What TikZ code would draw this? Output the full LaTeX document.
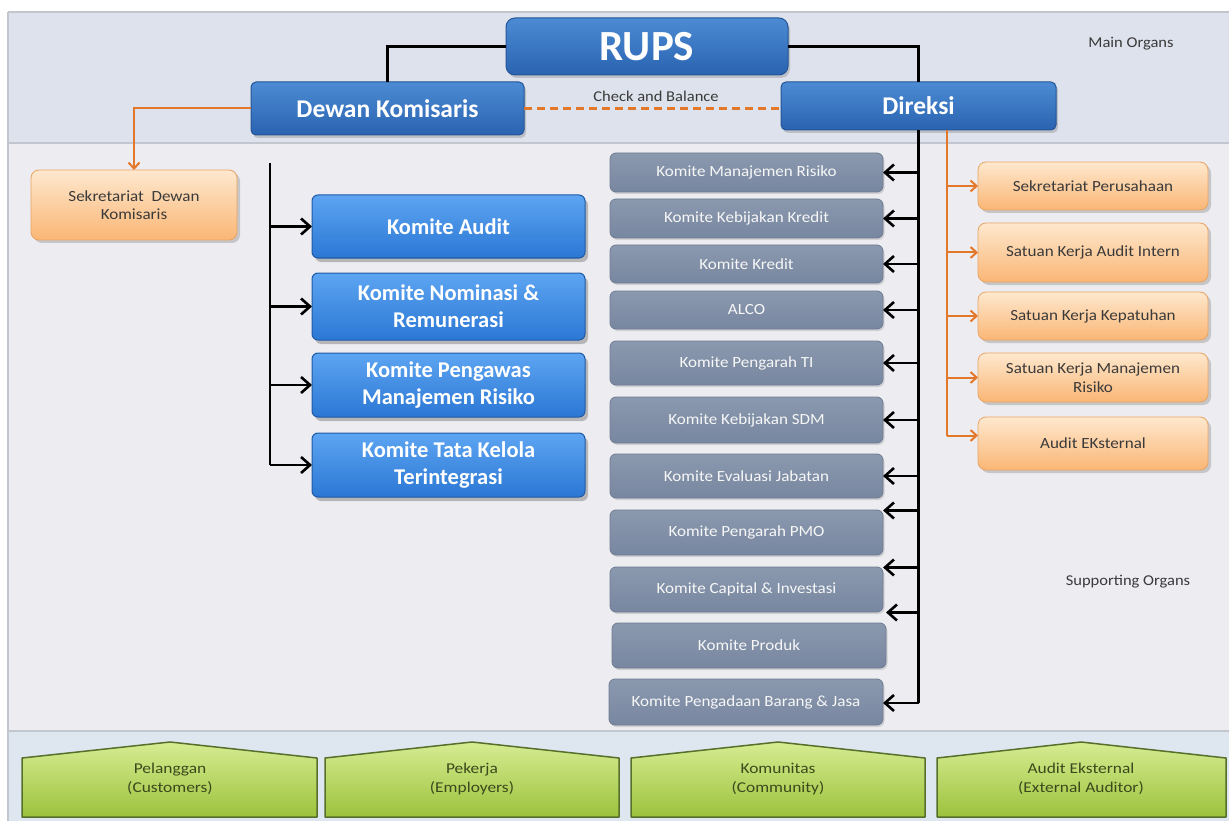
\documentclass[tikz,border=0pt]{standalone}
\usepackage{fontspec}
\setmainfont{Carlito}
\newfontfamily\widefont[FakeStretch=1.1]{Carlito}
\newfontfamily\widerfont[FakeStretch=1.16]{Carlito}
\usetikzlibrary{arrows.meta,shadows,calc}

\definecolor{topband}{HTML}{DEE2EC}
\definecolor{midband}{HTML}{EDECF1}
\definecolor{botband}{HTML}{DEE6EF}
\definecolor{bandline}{HTML}{C2C6CE}
\definecolor{mainTop}{HTML}{4C8BD4}
\definecolor{mainBot}{HTML}{2A63B0}
\definecolor{mainEdge}{HTML}{245596}
\definecolor{komTop}{HTML}{5DA5F2}
\definecolor{komBot}{HTML}{2B77D4}
\definecolor{komEdge}{HTML}{1D5AA6}
\definecolor{grayTop}{HTML}{8A99AE}
\definecolor{grayBot}{HTML}{7887A0}
\definecolor{grayEdge}{HTML}{6E7C92}
\definecolor{orTop}{HTML}{FEE8CE}
\definecolor{orBot}{HTML}{FAB675}
\definecolor{orEdge}{HTML}{E8A465}
\definecolor{orLine}{HTML}{E4782A}
\definecolor{grTop}{HTML}{D6EC92}
\definecolor{grBot}{HTML}{9CC23C}
\definecolor{grEdge}{HTML}{56702B}
\definecolor{txtDark}{HTML}{3A3A3A}
\definecolor{txtGreen}{HTML}{3B4A1C}

\newcommand\bx[7]{\node[#1, minimum width={(#5)-(#3)}, minimum height={(#6)-(#4)}] (#2) at ({((#3)+(#5))/2},{((#4)+(#6))/2}) {#7};}

\tikzset{
  boxbase/.style={outer sep=0pt, inner sep=2pt, align=center},
  mainbox/.style={boxbase, rounded corners=5pt, draw=mainEdge, line width=1pt,
    top color=mainTop, bottom color=mainBot, text=white,
    font={\fontsize{25.5}{29}\selectfont\bfseries},
    drop shadow={opacity=0.35, shadow xshift=2pt, shadow yshift=-3pt}},
  kombox/.style={boxbase, rounded corners=6pt, draw=komEdge, line width=1pt,
    top color=komTop, bottom color=komBot, text=white,
    font={\fontsize{22.5}{27}\selectfont\bfseries},
    drop shadow={opacity=0.5, shadow xshift=3pt, shadow yshift=-4pt}},
  graybox/.style={boxbase, rounded corners=6pt, draw=grayEdge, line width=0.8pt,
    top color=grayTop, bottom color=grayBot, text=white!94!gray,
    font={\widefont\fontsize{15.5}{19}\selectfont},
    drop shadow={opacity=0.25, shadow xshift=1.5pt, shadow yshift=-2pt}},
  orbox/.style={boxbase, rounded corners=8pt, draw=orEdge, line width=0.8pt,
    top color=orTop, bottom color=orBot, text=txtDark,
    font={\widefont\fontsize{15.5}{19}\selectfont},
    drop shadow={opacity=0.35, shadow xshift=3pt, shadow yshift=-3pt}},
  greenshape/.style={draw=grEdge, line width=1.5pt, line join=round,
    top color=grTop, bottom color=grBot},
  greentext/.style={align=center, text=txtGreen, font={\widerfont\fontsize{15}{19}\selectfont}},
  lbl/.style={text=txtDark, font={\widefont\fontsize{15}{18}\selectfont}},
  blk/.style={draw=black, line width=2.8pt},
  blkarr/.style={blk, -{Straight Barb[length=9pt,width=16pt,line width=2.6pt]}},
  orl/.style={draw=orLine, line width=2pt},
  orarr/.style={orl, -{Straight Barb[length=6pt,width=11pt,line width=2pt]}},
  cbdash/.style={draw=orLine, line width=3pt, dash pattern=on 8pt off 5pt},
}

\begin{document}
\begin{tikzpicture}[x=1pt, y=-1pt]
\useasboundingbox (0,0) rectangle (1229,821);
% background bands
\fill[white] (0,0) rectangle (1229,821);
\fill[topband] (8,12) rectangle (1229,143);
\fill[midband] (8,143) rectangle (1229,731);
\fill[botband] (8,731) rectangle (1229,821);
\draw[bandline, line width=2pt] (8,12) -- (1229,12);
\draw[bandline, line width=2pt] (8,143) -- (1229,143);
\draw[bandline, line width=2pt] (8,731) -- (1229,731);
\draw[bandline, line width=2pt] (8,12) -- (8,821);

% main organs
\bx{mainbox, font={\fontsize{43}{46}\selectfont\bfseries}, rounded corners=9pt}{rups}{506}{18}{788}{75}{RUPS}
\bx{mainbox}{dk}{251}{82}{524}{135}{Dewan Komisaris}
\bx{mainbox}{dir}{781}{82}{1056}{130}{Direksi}

\node[lbl] (cab) at (656,96) {Check and Balance};
\node[lbl] (mo) at (1131,44) {Main Organs};
\node[lbl] (so) at (1128,582) {Supporting Organs};

% Dewan Komisaris side
\bx{orbox, font={\widefont\fontsize{15.5}{18}\selectfont}}{sdk}{31}{170}{237}{240}{Sekretariat\ \ Dewan\\Komisaris}
\bx{kombox}{b1}{312}{195}{585}{258}{Komite Audit}
\bx{kombox}{b2}{312}{273}{585}{340}{Komite Nominasi \&\\Remunerasi}
\bx{kombox}{b3}{312}{353}{585}{417}{Komite Pengawas\\Manajemen Risiko}
\bx{kombox}{b4}{312}{433}{585}{497}{Komite Tata Kelola\\Terintegrasi}

% Direksi committees
\bx{graybox}{g1}{610}{153}{883}{192}{Komite Manajemen Risiko}
\bx{graybox}{g2}{610}{199}{883}{238}{Komite Kebijakan Kredit}
\bx{graybox}{g3}{610}{245}{883}{283}{Komite Kredit}
\bx{graybox}{g4}{610}{291}{883}{329}{ALCO}
\bx{graybox}{g5}{610}{341}{883}{385}{Komite Pengarah TI}
\bx{graybox}{g6}{610}{397}{883}{443}{Komite Kebijakan SDM}
\bx{graybox}{g7}{610}{454}{883}{498}{Komite Evaluasi Jabatan}
\bx{graybox}{g8}{610}{510}{883}{555}{Komite Pengarah PMO}
\bx{graybox}{g9}{610}{567}{883}{612}{Komite Capital \& Investasi}
\bx{graybox}{g10}{612}{623}{886}{668}{Komite Produk}
\bx{graybox}{g11}{609}{679}{883}{725}{Komite Pengadaan Barang \& Jasa}

% Direksi supporting units
\bx{orbox}{o1}{978}{162}{1208}{210}{Sekretariat Perusahaan}
\bx{orbox}{o2}{978}{223}{1208}{282}{Satuan Kerja Audit Intern}
\bx{orbox}{o3}{978}{292}{1208}{340}{Satuan Kerja Kepatuhan}
\bx{orbox}{o4}{978}{353}{1208}{402}{Satuan Kerja Manajemen\\Risiko}
\bx{orbox}{o5}{978}{417}{1208}{470}{Audit EKsternal}

% connectors: main
\draw[blk] (rups.west) -| (dk.north);
\draw[blk] (rups.east) -| (dir.north);
\draw[cbdash] (dk.east) -- (dk.east -| dir.west);
\draw[orarr] (dk.west) -| (sdk.north);

% left bus
\coordinate (busL) at (270,163);
\draw[blk] (busL) -- (busL |- b4.west);
\foreach \n in {b1,b2,b3,b4} {\draw[blkarr] (busL |- \n.west) -- (\n.west);}

% right black bus
\coordinate (a8) at ([yshift=22pt]g8.east);
\coordinate (a9) at ([yshift=22pt]g9.east);
\coordinate (a10) at ([yshift=33pt]g10.east);
\coordinate (a11) at ([yshift=-1pt]g11.east);
\draw[blk] (dir.south) -- (dir.south |- a11);
\foreach \n in {g1,g2,g3,g4,g5,g6,g7} {\draw[blkarr] (dir.south |- \n.east) -- (\n.east);}
\foreach \n in {a8,a9,a10,a11} {\draw[blkarr] (dir.south |- \n) -- (\n);}

% orange bus
\coordinate (busO) at (947,130);
\coordinate (a5o) at ([yshift=8pt]o5.west);
\draw[orl] (busO) -- (busO |- a5o);
\foreach \n in {o1,o2,o3,o4} {\draw[orarr] (busO |- \n.west) -- (\n.west);}
\draw[orarr] (busO |- a5o) -- (a5o);

% stakeholders
\path[greenshape] (22,758) -- (170,742) -- (317,758) -- (317,817) -- (22,817) -- cycle;
\node[greentext] (p1) at (170,779) {Pelanggan\\(Customers)};
\path[greenshape] (325,758) -- (472,742) -- (619,758) -- (619,817) -- (325,817) -- cycle;
\node[greentext] (p2) at (472,779) {Pekerja\\(Employers)};
\path[greenshape] (631,758) -- (778,742) -- (925,758) -- (925,817) -- (631,817) -- cycle;
\node[greentext] (p3) at (778,779) {Komunitas\\(Community)};
\path[greenshape] (937,758) -- (1081,742) -- (1226,758) -- (1226,817) -- (937,817) -- cycle;
\node[greentext] (p4) at (1081,779) {Audit Eksternal\\(External Auditor)};
\end{tikzpicture}
\end{document}
